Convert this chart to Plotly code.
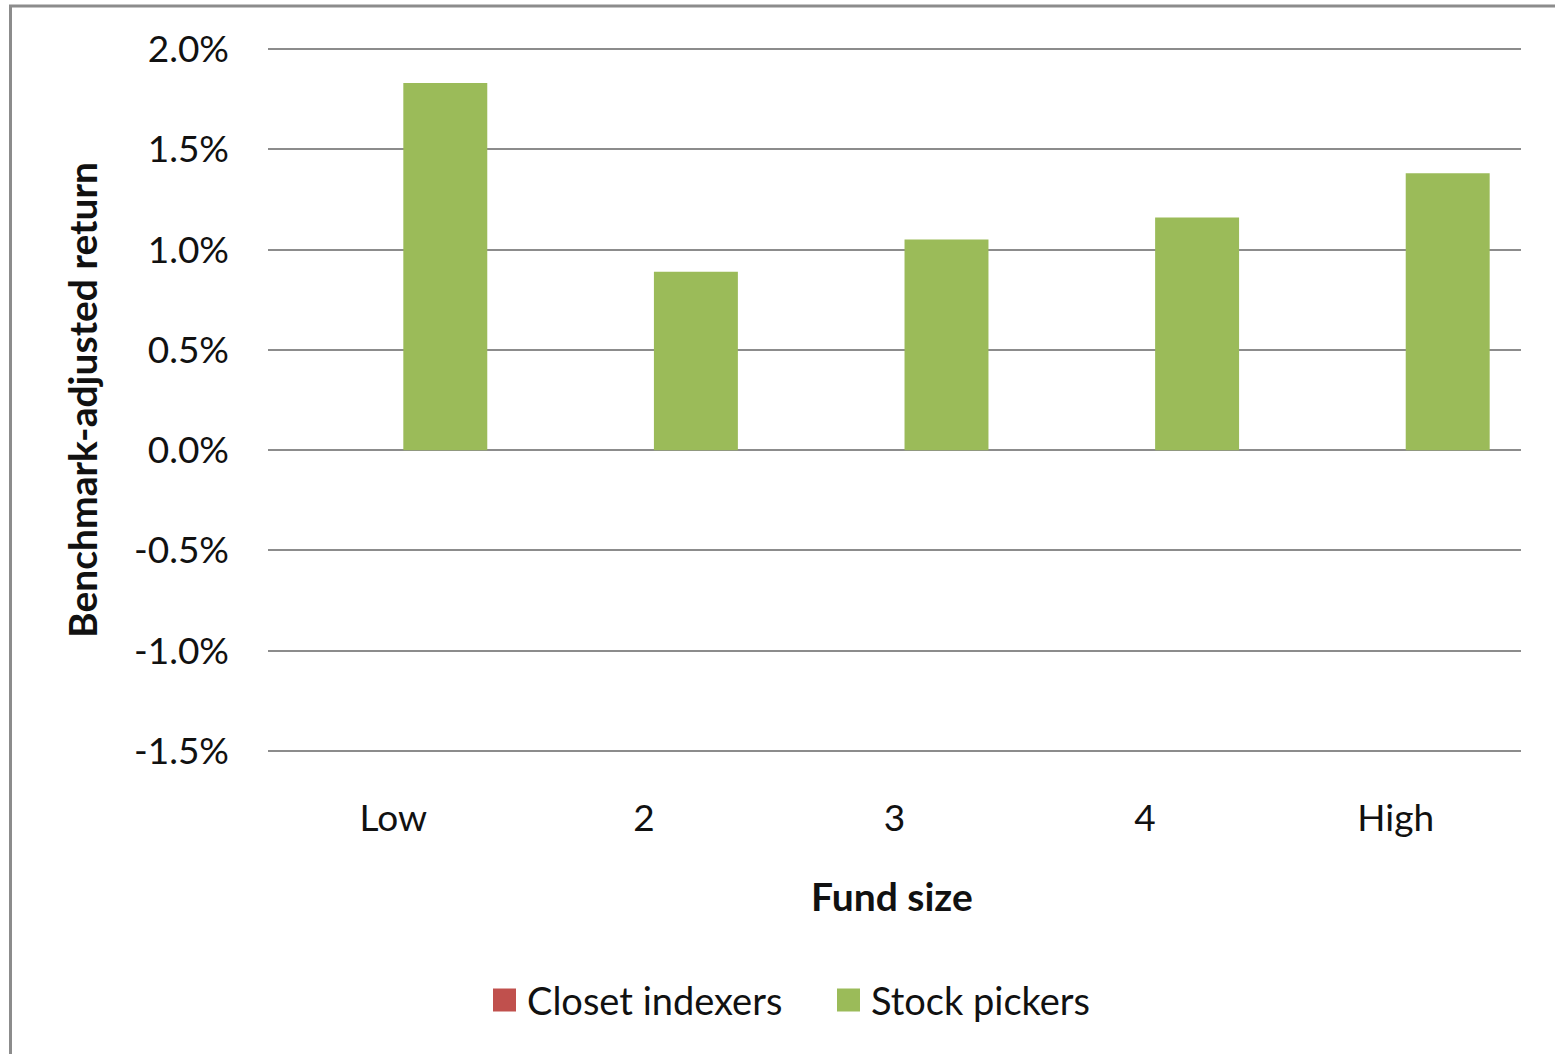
import plotly.graph_objects as go

# Fund size quintiles and benchmark-adjusted returns (fractions)
categories = ["Low", "2", "3", "4", "High"]
closet_indexers = [0.0, 0.0, 0.0, 0.0, 0.0]
stock_pickers = [0.0183, 0.0089, 0.0105, 0.0116, 0.0138]

y_tick_values = [-0.015, -0.010, -0.005, 0.0, 0.005, 0.010, 0.015, 0.020]
y_tick_labels = ["-1.5%", "-1.0%", "-0.5%", "0.0%", "0.5%", "1.0%", "1.5%", "2.0%"]

series_names = ["Closet indexers", "Stock pickers"]

RED = "#C0504D"
GREEN = "#9BBB59"
GRID = "#8C8C8C"
TEXT = "#111111"
FONT = "Lato"

W, H = 1555, 1054
# plot area padded by a few pixels so the end gridlines are drawn
L, R, T, B = 268, 34, 45, 299
plot_w = W - L - R
plot_h = H - T - B


def px_x(x):
    return (x - L) / plot_w


def px_y(y):
    return (H - B - y) / plot_h


fig = go.Figure()

fig.add_trace(go.Bar(
    x=categories, y=closet_indexers, name=series_names[0],
    marker=dict(color=RED, line=dict(width=0)),
    width=0.335, offset=-0.295, showlegend=False,
))
fig.add_trace(go.Bar(
    x=categories, y=stock_pickers, name=series_names[1],
    marker=dict(color=GREEN, line=dict(width=0)),
    width=0.335, offset=0.04, showlegend=False,
))

# Hand-drawn legend with large square swatches
legend_items = [(series_names[0], RED, 493), (series_names[1], GREEN, 837)]
legend_y = 1000
swatch = 23
shapes = []
annotations = []
for name, color, x0 in legend_items:
    shapes.append(dict(
        type="rect", xref="paper", yref="paper",
        x0=px_x(x0), x1=px_x(x0 + swatch),
        y0=px_y(legend_y + swatch / 2), y1=px_y(legend_y - swatch / 2),
        line=dict(width=0), fillcolor=color,
    ))
    annotations.append(dict(
        text=name, xref="paper", yref="paper",
        x=px_x(x0 + swatch + 9), y=px_y(legend_y),
        xanchor="left", yanchor="middle", showarrow=False,
        font=dict(size=38, color=TEXT),
    ))

# Outer chart frame
shapes.append(dict(
    type="rect", xref="paper", yref="paper",
    x0=px_x(10.5), x1=px_x(1565), y0=px_y(1065), y1=px_y(6),
    line=dict(color="#8C8C8C", width=3), fillcolor="rgba(0,0,0,0)",
    layer="below",
))

annotations += [
    dict(text="<b>Benchmark-adjusted return</b>", xref="paper", yref="paper",
         x=px_x(82), y=px_y(400), textangle=-90, showarrow=False,
         xanchor="center", yanchor="middle", font=dict(size=39, color=TEXT)),
    dict(text="<b>Fund size</b>", xref="paper", yref="paper",
         x=px_x(892), y=px_y(896), showarrow=False,
         xanchor="center", yanchor="middle", font=dict(size=39, color=TEXT)),
]

fig.update_layout(
    width=W, height=H,
    margin=dict(l=L, r=R, t=T, b=B),
    paper_bgcolor="white", plot_bgcolor="white",
    barmode="overlay",
    font=dict(family=FONT, size=37, color=TEXT),
    showlegend=False,
    xaxis=dict(
        type="category", categoryorder="array", categoryarray=categories,
        range=[-0.5, 4.5],
        showgrid=False, showline=False, zeroline=False,
        ticks="", ticklabelstandoff=38,
        tickfont=dict(size=37),
    ),
    yaxis=dict(
        range=[-0.0152, 0.0202],
        tickvals=y_tick_values, ticktext=y_tick_labels,
        showgrid=True, gridcolor=GRID, gridwidth=1.5,
        zeroline=False, showline=False,
        ticks="", ticklabelstandoff=38,
        tickfont=dict(size=37),
    ),
    annotations=annotations,
    shapes=shapes,
)

fig.write_html("out.html")
